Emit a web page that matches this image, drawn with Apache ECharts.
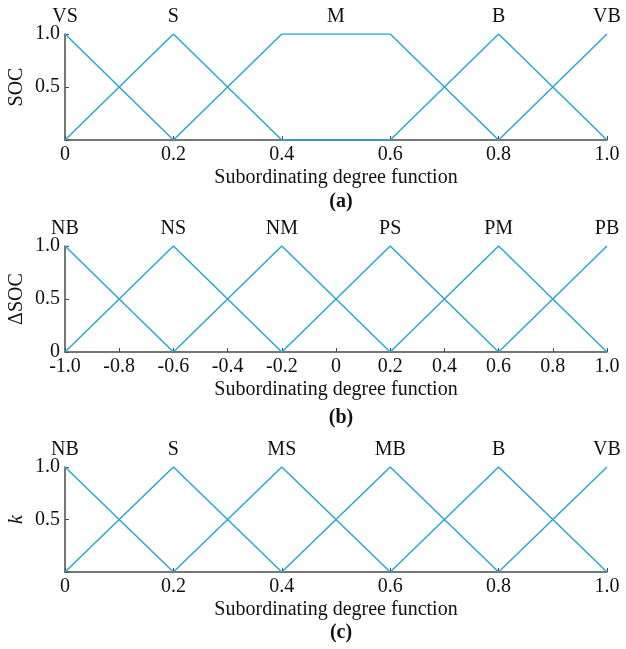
<!DOCTYPE html>
<html>
<head>
<meta charset="utf-8">
<script src="https://cdn.jsdelivr.net/npm/echarts@6/dist/echarts.min.js"></script>
<style>
  html, body { margin: 0; padding: 0; background: #fff; }
  #chart { width: 626px; height: 649px; }
</style>
</head>
<body>
<div id="chart"></div>
<script>
// (a) SOC membership functions
const socTerms = ['VS', 'S', 'M', 'B', 'VB']
const socTermPos = [0, 0.2, 0.5, 0.8, 1.0]
const socVS = [[0, 1], [0.2, 0]]
const socS = [[0, 0], [0.2, 1], [0.4, 0], [0.6, 0]]
const socM = [[0.2, 0], [0.4, 1], [0.6, 1], [0.8, 0]]
const socB = [[0.6, 0], [0.8, 1], [1.0, 0]]
const socVB = [[0.8, 0], [1.0, 1]]

// (b) delta SOC membership functions
const dsocTerms = ['NB', 'NS', 'NM', 'PS', 'PM', 'PB']
const dsocTermPos = [-1.0, -0.6, -0.2, 0.2, 0.6, 1.0]
const dsocNB = [[-1.0, 1], [-0.6, 0]]
const dsocNS = [[-1.0, 0], [-0.6, 1], [-0.2, 0]]
const dsocNM = [[-0.6, 0], [-0.2, 1], [0.2, 0]]
const dsocPS = [[-0.2, 0], [0.2, 1], [0.6, 0]]
const dsocPM = [[0.2, 0], [0.6, 1], [1.0, 0]]
const dsocPB = [[0.6, 0], [1.0, 1]]

// (c) k membership functions
const kTerms = ['NB', 'S', 'MS', 'MB', 'B', 'VB']
const kTermPos = [0, 0.2, 0.4, 0.6, 0.8, 1.0]
const kNB = [[0, 1], [0.2, 0]]
const kS = [[0, 0], [0.2, 1], [0.4, 0]]
const kMS = [[0.2, 0], [0.4, 1], [0.6, 0]]
const kMB = [[0.4, 0], [0.6, 1], [0.8, 0]]
const kB = [[0.6, 0], [0.8, 1], [1.0, 0]]
const kVB = [[0.8, 0], [1.0, 1]]

// tick labels
const unitTicks = [0, 0.2, 0.4, 0.6, 0.8, 1.0]
const unitTickLabels = ['0', '0.2', '0.4', '0.6', '0.8', '1.0']
const signedTicks = [-1.0, -0.8, -0.6, -0.4, -0.2, 0, 0.2, 0.4, 0.6, 0.8, 1.0]
const signedTickLabels = ['-1.0', '-0.8', '-0.6', '-0.4', '-0.2', '0', '0.2', '0.4', '0.6', '0.8', '1.0']
const yTicks = [0, 0.5, 1.0]
const yTickLabelsNoZero = ['', '0.5', '1.0']
const yTickLabelsZero = ['0', '0.5', '1.0']

const lineColor = '#2aa6d3'
const axisColor = '#4a4a4a'
const font = 'Liberation Serif'
const fs = 20

function lookup(ticks, labels) {
  return function(v) {
    for (let i = 0; i < ticks.length; i++) {
      if (Math.abs(ticks[i] - v) < 1e-6) return labels[i]
    }
    return ''
  }
}

const grids = [
  { left: 65, right: 19, top: 34, height: 106, outerBoundsMode: 'none', containLabel: false },
  { left: 65, right: 19, top: 246, height: 106, outerBoundsMode: 'none', containLabel: false },
  { left: 65, right: 19, top: 467, height: 105, outerBoundsMode: 'none', containLabel: false }
]

function bottomAxis(gi, min, max, ticks, labels) {
  return {
    type: 'value',
    gridIndex: gi,
    position: 'bottom',
    min: min,
    max: max,
    interval: 0.2,
    name: 'Subordinating degree function',
    nameLocation: 'middle',
    nameGap: 28,
    nameMoveOverlap: false,
    nameTextStyle: { fontFamily: font, fontSize: fs, color: '#111' },
    axisLine: { onZero: false, lineStyle: { color: axisColor, width: 1.5 } },
    axisTick: { inside: true, length: 4, lineStyle: { color: axisColor } },
    axisLabel: { margin: 5, fontFamily: font, fontSize: fs, color: '#111', formatter: lookup(ticks, labels) },
    splitLine: { show: false }
  }
}

function topAxis(gi, min, max, interval, termPos, terms) {
  return {
    type: 'value',
    gridIndex: gi,
    position: 'top',
    min: min,
    max: max,
    interval: interval,
    axisLine: { show: false, onZero: false },
    axisTick: { show: false },
    axisLabel: { margin: 7, fontFamily: font, fontSize: fs, color: '#111', formatter: lookup(termPos, terms) },
    splitLine: { show: false }
  }
}

function leftAxis(gi, name, italic, labels) {
  return {
    type: 'value',
    gridIndex: gi,
    min: 0,
    max: 1,
    interval: 0.5,
    name: name,
    nameLocation: 'middle',
    nameGap: 38,
    nameMoveOverlap: false,
    nameTextStyle: { fontFamily: font, fontSize: fs, color: '#111', fontStyle: italic ? 'italic' : 'normal' },
    axisLine: { show: true, onZero: false, lineStyle: { color: axisColor, width: 1.5 } },
    axisTick: { show: true, inside: true, length: 4, lineStyle: { color: axisColor } },
    axisLabel: { margin: 5, fontFamily: font, fontSize: fs, color: '#111', formatter: lookup(yTicks, labels) },
    splitLine: { show: false }
  }
}

function mf(name, data, idx) {
  return {
    name: name,
    type: 'line',
    xAxisIndex: idx * 2,
    yAxisIndex: idx,
    data: data,
    symbol: 'none',
    lineStyle: { color: lineColor, width: 1.5 },
    z: 3
  }
}

const chart = echarts.init(document.getElementById('chart'))
chart.setOption({
  backgroundColor: '#fff',
  animation: false,
  title: [
    { text: '(a)', left: 336, top: 187, textAlign: 'center', textStyle: { fontFamily: font, fontSize: fs, fontWeight: 'bold', color: '#111' } },
    { text: '(b)', left: 336, top: 403, textAlign: 'center', textStyle: { fontFamily: font, fontSize: fs, fontWeight: 'bold', color: '#111' } },
    { text: '(c)', left: 336, top: 618, textAlign: 'center', textStyle: { fontFamily: font, fontSize: fs, fontWeight: 'bold', color: '#111' } }
  ],
  grid: grids,
  xAxis: [
    bottomAxis(0, 0, 1, unitTicks, unitTickLabels),
    topAxis(0, 0, 1, 0.1, socTermPos, socTerms),
    bottomAxis(1, -1, 1, signedTicks, signedTickLabels),
    topAxis(1, -1, 1, 0.4, dsocTermPos, dsocTerms),
    bottomAxis(2, 0, 1, unitTicks, unitTickLabels),
    topAxis(2, 0, 1, 0.2, kTermPos, kTerms)
  ],
  yAxis: [
    leftAxis(0, 'SOC', false, yTickLabelsNoZero),
    leftAxis(1, 'ΔSOC', false, yTickLabelsZero),
    leftAxis(2, 'k', true, yTickLabelsNoZero)
  ],
  series: [
    mf('VS', socVS, 0), mf('S', socS, 0), mf('M', socM, 0), mf('B', socB, 0), mf('VB', socVB, 0),
    mf('NB', dsocNB, 1), mf('NS', dsocNS, 1), mf('NM', dsocNM, 1), mf('PS', dsocPS, 1), mf('PM', dsocPM, 1), mf('PB', dsocPB, 1),
    mf('NB', kNB, 2), mf('S', kS, 2), mf('MS', kMS, 2), mf('MB', kMB, 2), mf('B', kB, 2), mf('VB', kVB, 2)
  ]
})
</script>
</body>
</html>
